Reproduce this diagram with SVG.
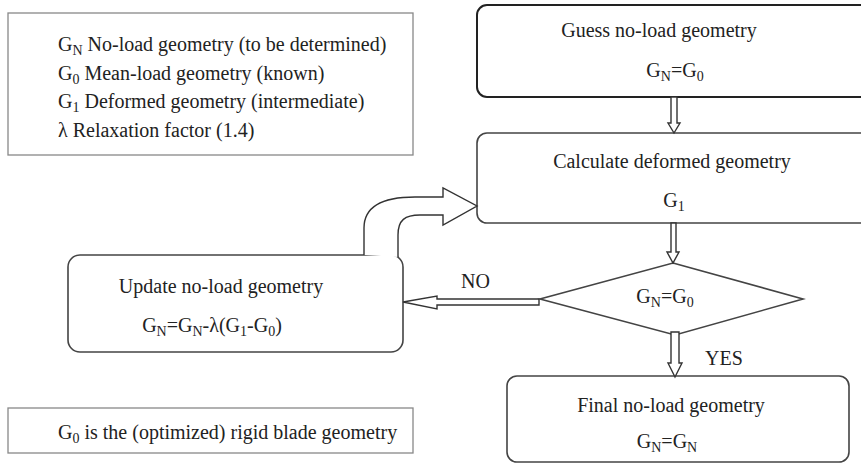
<svg xmlns="http://www.w3.org/2000/svg" width="861" height="471" viewBox="0 0 861 471">
<style>
text{font-family:'Liberation Serif','DejaVu Serif',serif;font-size:20px;fill:#222}
.s{font-size:14px}
.c{text-anchor:middle}
.box{fill:#fff;stroke:#444;stroke-width:1.6}
.note{fill:#fff;stroke:#888;stroke-width:1.3}
.arr{fill:#fff;stroke:#333;stroke-width:1.4;stroke-linejoin:miter}
</style>
<rect width="861" height="471" fill="#fff"/>
<g id="legend" font-family="Liberation Serif, serif">
<rect class="note" x="8" y="13" width="405" height="142"/>
<text x="58" y="51">G<tspan class="s" dy="4">N</tspan><tspan dy="-4"> No-load geometry (to be determined)</tspan></text>
<text x="58" y="80">G<tspan class="s" dy="4">0</tspan><tspan dy="-4"> Mean-load geometry (known)</tspan></text>
<text x="58" y="108">G<tspan class="s" dy="4">1</tspan><tspan dy="-4"> Deformed geometry (intermediate)</tspan></text>
<text x="58" y="137">λ Relaxation factor (1.4)</text>
</g>
<g id="note">
<rect class="note" x="8" y="408" width="405" height="45"/>
<text x="58" y="439">G<tspan class="s" dy="4">0</tspan><tspan dy="-4"> is the (optimized) rigid blade geometry</tspan></text>
</g>
<g id="guess">
<rect class="box" x="477" y="5" width="400" height="92" rx="10" style="stroke:#222;stroke-width:2"/>
<text class="c" x="659" y="37">Guess no-load geometry</text>
<text class="c" x="675" y="77">G<tspan class="s" dy="4">N</tspan><tspan dy="-4">=G</tspan><tspan class="s" dy="4">0</tspan></text>
</g>
<g id="calculate">
<rect class="box" x="477" y="133" width="400" height="90" rx="10"/>
<text class="c" x="672" y="168">Calculate deformed geometry</text>
<text class="c" x="674" y="207">G<tspan class="s" dy="4">1</tspan></text>
</g>
<g id="decision">
<polygon class="box" points="673,263 803,299 675,335 540,299"/>
<text class="c" x="665" y="303">G<tspan class="s" dy="4">N</tspan><tspan dy="-4">=G</tspan><tspan class="s" dy="4">0</tspan></text>
</g>
<g id="update">
<rect class="box" x="68" y="255" width="335" height="97" rx="12"/>
<text class="c" x="221" y="293">Update no-load geometry</text>
<text class="c" x="212" y="332">G<tspan class="s" dy="4">N</tspan><tspan dy="-4">=G</tspan><tspan class="s" dy="4">N</tspan><tspan dy="-4">-λ(G</tspan><tspan class="s" dy="4">1</tspan><tspan dy="-4">-G</tspan><tspan class="s" dy="4">0</tspan><tspan dy="-4">)</tspan></text>
</g>
<g id="final">
<rect class="box" x="507" y="376" width="342" height="86" rx="10"/>
<text class="c" x="671" y="412">Final no-load geometry</text>
<text class="c" x="667" y="448">G<tspan class="s" dy="4">N</tspan><tspan dy="-4">=G</tspan><tspan class="s" dy="4">N</tspan></text>
</g>
<g id="connectors">
<path class="arr" d="M671,97 V123 H668 L674,133 L680,123 H677 V97 Z"/>
<path class="arr" d="M671,223 V252 H667 L673,263 L679,252 H676 V223 Z"/>
<path class="arr" d="M671,332 V363 H668 L675,377 L682,363 H679 V332 Z"/>
<path class="arr" d="M539,299 H437 V296 L403,302 L437,309 V305 H539 Z"/>
<path class="arr" d="M364,255 V228 C364,205 385,197 415,197 H443 V188 L477,206 L443,225 V215 H420 C405,215 398,220 398,235 V257"/>
<text x="461" y="288">NO</text>
<text x="705" y="365">YES</text>
</g>
</svg>
